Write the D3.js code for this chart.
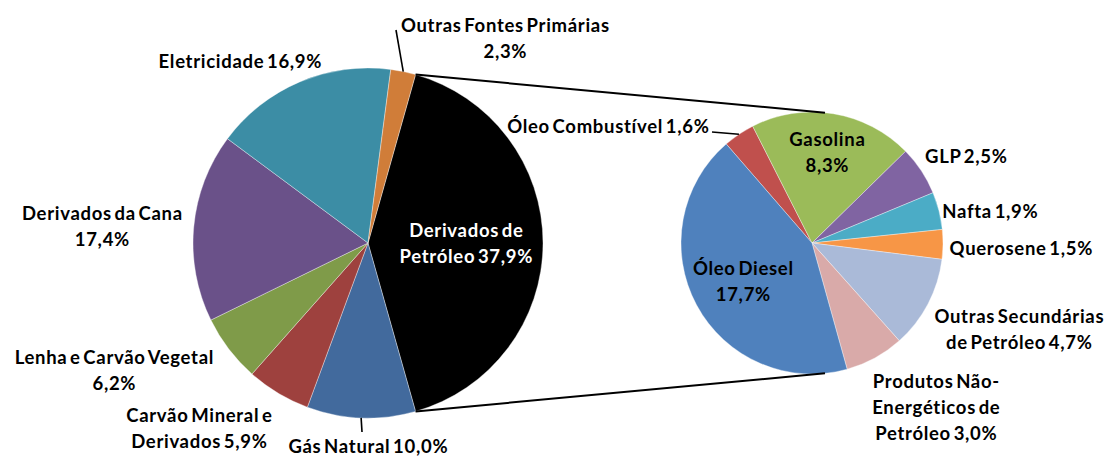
<!DOCTYPE html>
<html><head><meta charset="utf-8">
<script src="https://cdn.jsdelivr.net/npm/d3@7"></script>
<style>
html,body{margin:0;padding:0;background:#fff;}
svg text{font-family:Lato,"Open Sans",sans-serif;font-weight:700;}
</style></head>
<body>
<svg id="chart" width="1110" height="456"></svg>
<script>
// ---- data ----
const primaryCategories = ["Derivados de Petróleo","Gás Natural","Carvão Mineral e Derivados","Lenha e Carvão Vegetal","Derivados da Cana","Eletricidade","Outras Fontes Primárias"];
const primaryValues = [37.9, 10.0, 5.9, 6.2, 17.4, 16.9, 2.3];
const secondaryCategories = ["Óleo Combustível","Gasolina","GLP","Nafta","Querosene","Outras Secundárias de Petróleo","Produtos Não-Energéticos de Petróleo","Óleo Diesel"];
const secondaryValues = [1.6, 8.3, 2.5, 1.9, 1.5, 4.7, 3.0, 17.7];

// ---- styles / layout ----
const primaryColors = ["#000000","#426A9D","#9E413E","#7F9B49","#6A5189","#3C8DA5","#D07D39"];
const secondaryColors = ["#C0504D","#9BBB59","#8064A2","#4BACC6","#F79646","#AABAD8","#D9AAA9","#4F81BD"];
const P = {cx:368, cy:243, r:175};
const S = {cx:812, cy:243, r:131};
const fmt = v => d3.format(".1f")(v).replace(".", ",") + "%";
const fontSize = 18.5, letterSp = 0.7, wordSp = -2.5;

// label layout: lines (with value placeholder), anchor center x, first baseline y, color, leader start
const primaryLabelLayout = [
  {lines:["Derivados de","Petróleo {v}"], x:466, y:237, fill:"#fff"},
  {lines:["Gás Natural {v}"], x:368, y:453, leader:[362,432]},
  {lines:["Carvão Mineral e","Derivados {v}"], x:199, y:422},
  {lines:["Lenha e Carvão Vegetal","{v}"], x:114, y:364},
  {lines:["Derivados da Cana","{v}"], x:102, y:220},
  {lines:["Eletricidade {v}"], x:240, y:68},
  {lines:["Outras Fontes Primárias","{v}"], x:505, y:32, leader:[396,30]}
];
const secondaryLabelLayout = [
  {lines:["Óleo Combustível {v}"], x:608, y:133, leader:[712,132]},
  {lines:["Gasolina","{v}"], x:827, y:146},
  {lines:["GLP {v}"], x:966, y:163},
  {lines:["Nafta {v}"], x:990, y:218},
  {lines:["Querosene {v}"], x:1021, y:255},
  {lines:["Outras Secundárias","de Petróleo {v}"], x:1019, y:323},
  {lines:["Produtos Não-","Energéticos de","Petróleo {v}"], x:936, y:388},
  {lines:["Óleo Diesel","{v}"], x:743, y:275}
];
const lineH = 26;
const deg = Math.PI/180;

const svg = d3.select("#chart");

// primary pie: the petroleum slice is the sum of the secondary pie
const secTotal = d3.sum(secondaryValues);
const primarySizes = primaryValues.map((v,i)=> i===0 ? secTotal : v);
const primTotal = d3.sum(primarySizes);
const petroSpan = secTotal/primTotal*2*Math.PI;
const pStart = Math.PI/2 - petroSpan/2;
const pie1 = d3.pie().sort(null).value(d=>d).startAngle(pStart).endAngle(pStart+2*Math.PI);
const arcs1 = pie1(primarySizes);
const arc1 = d3.arc().innerRadius(0).outerRadius(P.r);

const sStart = -40.9*deg;
const pie2 = d3.pie().sort(null).value(d=>d).startAngle(sStart).endAngle(sStart+2*Math.PI);
const arcs2 = pie2(secondaryValues);
const arc2 = d3.arc().innerRadius(0).outerRadius(S.r);

const g1 = svg.append("g").attr("transform",`translate(${P.cx},${P.cy})`);
g1.selectAll("path").data(arcs1).join("path")
  .attr("d",arc1).attr("fill",(d,i)=>primaryColors[i])
  .attr("stroke","rgba(255,255,255,0.45)").attr("stroke-width",0.8);

const g2 = svg.append("g").attr("transform",`translate(${S.cx},${S.cy})`);
g2.selectAll("path").data(arcs2).join("path")
  .attr("d",arc2).attr("fill",(d,i)=>secondaryColors[i])
  .attr("stroke","rgba(255,255,255,0.45)").attr("stroke-width",0.8);

// connector lines: from petroleum slice edges to tangent points of the secondary pie
const pt = (c,r,a)=>[c.cx + r*Math.sin(a), c.cy - r*Math.cos(a)];
const d = S.cx - P.cx;
const tAng = Math.acos((P.r - S.r)/d); // from +x axis
const tTop = Math.PI/2 - tAng, tBot = Math.PI/2 + tAng;
const petro = arcs1[0];
const conn = [
  [pt(P,P.r,petro.startAngle), pt(S,S.r,tTop)],
  [pt(P,P.r,petro.endAngle), pt(S,S.r,tBot)]
];
svg.selectAll("line.conn").data(conn).join("line").attr("class","conn")
  .attr("x1",c=>c[0][0]).attr("y1",c=>c[0][1]).attr("x2",c=>c[1][0]).attr("y2",c=>c[1][1])
  .attr("stroke","#000").attr("stroke-width",2);

function drawLabels(arcs, layout, values, center) {
  layout.forEach((L,i)=>{
    const a = arcs[i];
    const t = svg.append("text").attr("text-anchor","middle")
      .attr("font-size",fontSize).attr("letter-spacing",letterSp).attr("word-spacing",wordSp)
      .attr("fill",L.fill||"#000");
    L.lines.forEach((ln,j)=>{
      t.append("tspan").attr("x",L.x + letterSp/2).attr("y",L.y + j*lineH).text(ln.replace("{v}", fmt(values[i])));
    });
    if (L.leader) {
      const mid = (a.startAngle + a.endAngle)/2;
      const e = pt(center, center.r, mid);
      svg.append("line").attr("x1",L.leader[0]).attr("y1",L.leader[1])
        .attr("x2",e[0]).attr("y2",e[1]).attr("stroke","#000").attr("stroke-width",1.6);
    }
  });
}
drawLabels(arcs1, primaryLabelLayout, primaryValues, P);
drawLabels(arcs2, secondaryLabelLayout, secondaryValues, S);
</script>
</body></html>
